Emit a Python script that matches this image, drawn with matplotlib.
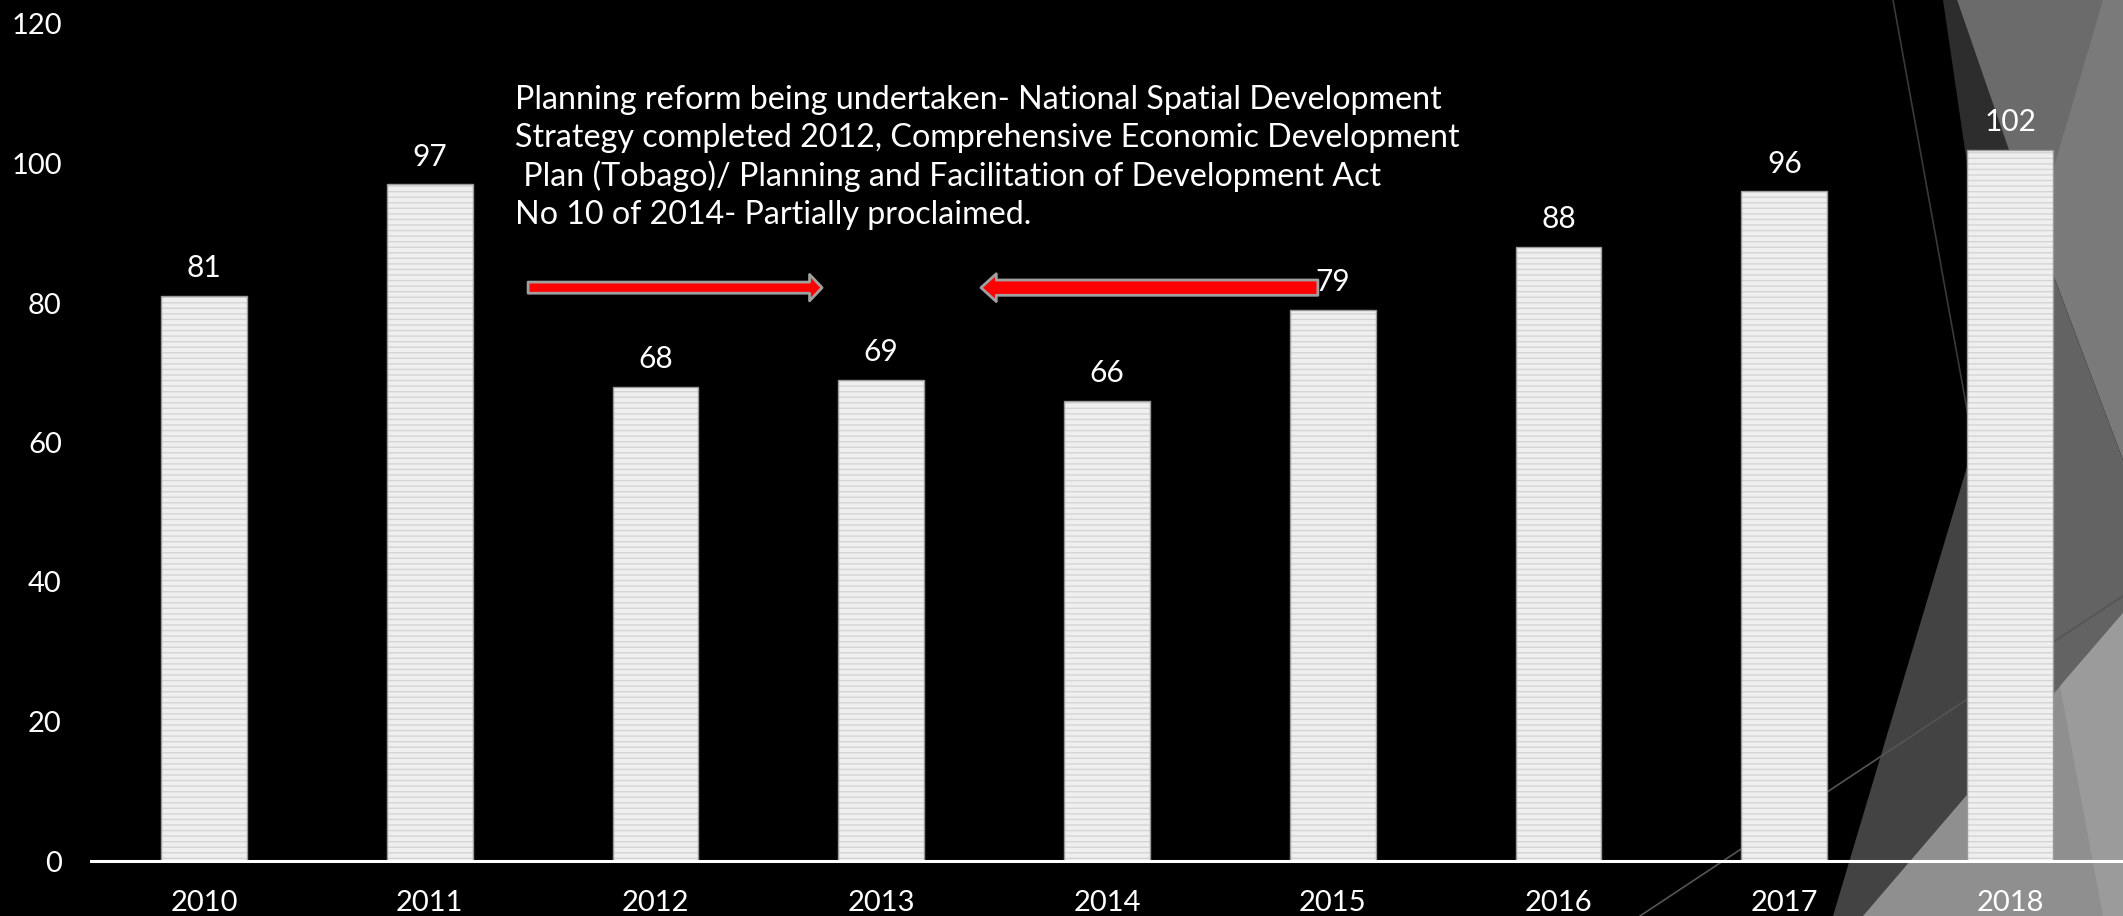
import matplotlib
matplotlib.use('Agg')
import matplotlib.pyplot as plt
from matplotlib.patches import Polygon, FancyArrowPatch
from matplotlib.lines import Line2D

years = ['2010', '2011', '2012', '2013', '2014', '2015', '2016', '2017', '2018']
values = [81, 97, 68, 69, 66, 79, 88, 96, 102]
y_ticks = [0, 20, 40, 60, 80, 100, 120]
note_lines = [
    "Planning reform being undertaken- National Spatial Development",
    "Strategy completed 2012, Comprehensive Economic Development",
    " Plan (Tobago)/ Planning and Facilitation of Development Act",
    "No 10 of 2014- Partially proclaimed.",
]

FONT = ['Lato', 'DejaVu Sans']
plt.rcParams['font.family'] = FONT
plt.rcParams['hatch.linewidth'] = 1.0

W, H = 2123, 916
fig = plt.figure(figsize=(W / 100, H / 100), dpi=100, facecolor='black')


def fx(px):
    return px / W


def fy(py):
    return 1 - py / H


def deco_poly(pts, color, z):
    fig.add_artist(Polygon([(fx(x), fy(y)) for x, y in pts], closed=True,
                           transform=fig.transFigure, facecolor=color,
                           edgecolor='none', zorder=z))


def deco_line(p0, p1, color, z, lw=1.0):
    fig.add_artist(Line2D([fx(p0[0]), fx(p1[0])], [fy(p0[1]), fy(p1[1])],
                          transform=fig.transFigure, color=color, lw=lw, zorder=z))


# background facet decoration (right side)
deco_poly([(2030, 0), (2123, 0), (2123, 460), (2030, 213)], '#7a7a7a', -20)
deco_poly([(1943, 0), (1957, 0), (2030, 210), (2030, 300), (1987, 300)], '#2d2d2d', -19)
deco_poly([(1957, 0), (2103, 0), (2036, 228)], '#6b6b6b', -18)
deco_poly([(2030, 213), (2123, 460), (2123, 916), (2030, 916)], '#636363', -17)
deco_poly([(1975, 440), (2030, 440), (2030, 916), (1833, 916)], '#434343', -16)
deco_poly([(1863, 916), (2123, 613), (2123, 916)], '#8f8f8f', -15)
deco_poly([(2060, 686), (2123, 613), (2123, 916), (2103, 916)], '#9b9b9b', -14)
deco_line((1893, 0), (1973, 443), '#3a3a3a', -13, lw=1.2)
deco_line((1640, 916), (2123, 596), '#555555', -12, lw=1.2)

ax = fig.add_axes([91 / W, 1 - 861 / H, 1 - 91 / W, (861 - 24) / H])
ax.set_facecolor('none')

x = list(range(len(years)))
ax.bar(x, values, width=0.38, color='#efefef', edgecolor='#d4d4d4',
       hatch='---', linewidth=0, zorder=2)
ax.bar(x, values, width=0.38, facecolor='none', edgecolor='#9a9a9a',
       linewidth=1.0, zorder=3)

for i, v in enumerate(values):
    ax.annotate(str(v), (i, v), xytext=(0, 10), textcoords='offset points',
                ha='center', va='bottom', color='white', fontsize=21.5, zorder=5)

ax.set_xlim(-0.5, len(years) - 0.5)
ax.set_ylim(0, 120)
ax.set_yticks(y_ticks)
ax.set_xticks(x, years)
ax.tick_params(axis='y', length=0, pad=21, labelsize=21, labelcolor='white')
ax.tick_params(axis='x', length=0, pad=21, labelsize=21, labelcolor='white')
for s in ['top', 'right', 'left']:
    ax.spines[s].set_visible(False)
ax.spines['bottom'].set_color('white')
ax.spines['bottom'].set_linewidth(2.2)
ax.spines['bottom'].set_zorder(4)

# annotation text
fig.text(fx(515), fy(85), '\n'.join(note_lines), color='white', fontsize=23.2,
         ha='left', va='top', linespacing=1.32)

# arrows
arrow_r = FancyArrowPatch((1.436, 82.2), (2.738, 82.2), shrinkA=0, shrinkB=0,
                          arrowstyle='simple,head_length=9,head_width=19,tail_width=8',
                          facecolor='#ff0000', edgecolor='#a0a0a0', linewidth=2.0, zorder=6)
arrow_l = FancyArrowPatch((4.934, 82.2), (3.442, 82.2), shrinkA=0, shrinkB=0,
                          arrowstyle='simple,head_length=11,head_width=20,tail_width=11',
                          facecolor='#ff0000', edgecolor='#a0a0a0', linewidth=2.0, zorder=6)
ax.add_patch(arrow_r)
ax.add_patch(arrow_l)

fig.savefig('out.png', dpi=100, facecolor='black')
